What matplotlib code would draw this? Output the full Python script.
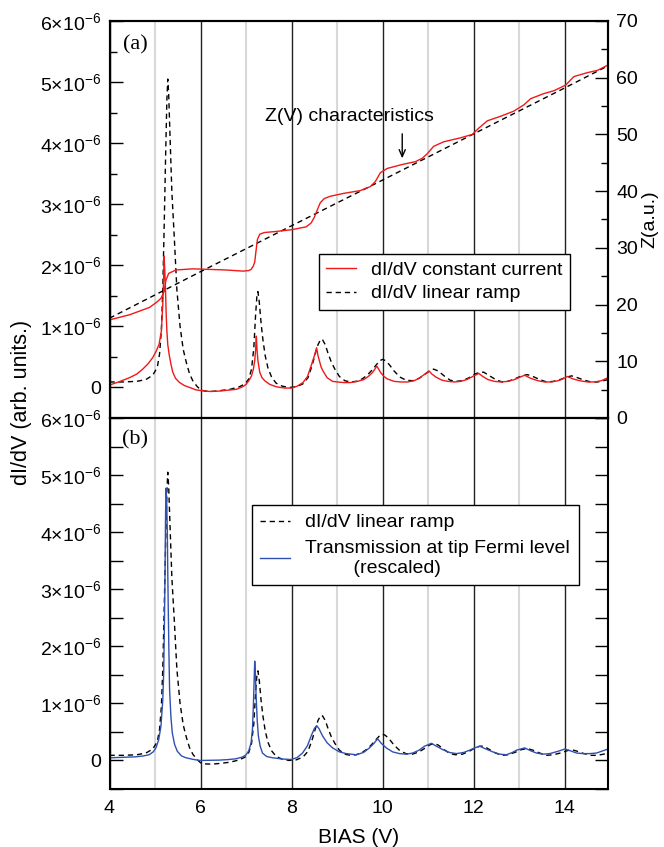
import matplotlib
matplotlib.use('Agg')
import matplotlib.pyplot as plt
from matplotlib.ticker import MultipleLocator, FuncFormatter
from matplotlib.lines import Line2D

plt.rcParams['font.family'] = ['Liberation Sans', 'DejaVu Sans']
plt.rcParams['mathtext.fontset'] = 'custom'
plt.rcParams['mathtext.rm'] = 'Liberation Sans'
plt.rcParams['mathtext.it'] = 'Liberation Sans:italic'
plt.rcParams['mathtext.bf'] = 'Liberation Sans:bold'

# ---------------- data ----------------
# dI/dV linear ramp (black dashed), units of 1e-6
ramp_v = [4.00, 4.30, 4.60, 4.80, 4.95, 5.05, 5.10, 5.14, 5.17, 5.20, 5.23, 5.26, 5.28, 5.30,
          5.33, 5.37, 5.42, 5.48, 5.55, 5.62, 5.69, 5.76, 5.83, 5.92, 6.00, 6.10, 6.25, 6.45,
          6.65, 6.85, 6.98, 7.06, 7.12, 7.17, 7.21, 7.24, 7.26, 7.29, 7.33, 7.37, 7.42, 7.48,
          7.56, 7.66, 7.80, 7.95, 8.10, 8.25, 8.36, 8.45, 8.52, 8.58, 8.64, 8.68, 8.74, 8.80,
          8.87, 8.95, 9.05, 9.17, 9.29, 9.42, 9.55, 9.66, 9.76, 9.86, 9.94, 10.00, 10.06, 10.15,
          10.25, 10.38, 10.51, 10.65, 10.80, 10.92, 11.03, 11.12, 11.22, 11.35, 11.48, 11.60,
          11.75, 11.90, 12.03, 12.14, 12.22, 12.35, 12.48, 12.62, 12.75, 12.90, 13.05, 13.18,
          13.30, 13.45, 13.60, 13.75, 13.90, 14.05, 14.15, 14.28, 14.42, 14.58, 14.72, 14.85, 14.95]
ramp_didv = [0.09, 0.09, 0.10, 0.13, 0.20, 0.33, 0.55, 0.95, 1.6, 2.6, 3.7, 4.7, 5.05, 4.8,
             4.1, 3.2, 2.5, 1.6, 1.0, 0.62, 0.40, 0.22, 0.11, 0.02, -0.04, -0.06, -0.065, -0.05,
             -0.03, 0.01, 0.06, 0.14, 0.30, 0.65, 1.20, 1.52, 1.57, 1.40, 1.05, 0.78, 0.52, 0.32,
             0.17, 0.07, 0.02, 0.00, 0.01, 0.06, 0.16, 0.36, 0.55, 0.70, 0.79, 0.78, 0.70, 0.56,
             0.42, 0.30, 0.18, 0.11, 0.09, 0.10, 0.14, 0.20, 0.28, 0.37, 0.44, 0.46, 0.44, 0.37,
             0.27, 0.17, 0.12, 0.11, 0.15, 0.21, 0.27, 0.30, 0.27, 0.19, 0.12, 0.10,
             0.11, 0.16, 0.22, 0.25, 0.25, 0.19, 0.13, 0.09, 0.10, 0.14, 0.19, 0.21,
             0.18, 0.13, 0.09, 0.10, 0.13, 0.17, 0.19, 0.16, 0.12, 0.09, 0.09, 0.11, 0.13]

# dI/dV constant current (red), units of 1e-6
cc_v = [4.00, 4.20, 4.44, 4.60, 4.73, 4.85, 4.95, 5.03, 5.09, 5.14, 5.17, 5.19, 5.20, 5.215,
        5.23, 5.245, 5.26, 5.28, 5.31, 5.35, 5.39, 5.45, 5.54, 5.65, 5.76, 5.90, 6.00, 6.20,
        6.40, 6.60, 6.79, 6.92, 7.00, 7.07, 7.12, 7.16, 7.19, 7.21, 7.225, 7.24, 7.26, 7.30,
        7.35, 7.41, 7.52, 7.67, 7.85, 8.00, 8.12, 8.25, 8.35, 8.44, 8.50, 8.55, 8.58, 8.61,
        8.65, 8.69, 8.78, 8.90, 9.00, 9.15, 9.29, 9.45, 9.59, 9.70, 9.77, 9.83, 9.87, 9.92,
        9.96, 10.03, 10.10, 10.25, 10.40, 10.55, 10.69, 10.80, 10.91, 11.02, 11.08, 11.17,
        11.30, 11.43, 11.58, 11.72, 11.85, 11.98, 12.11, 12.20, 12.31, 12.45, 12.60, 12.75,
        12.90, 13.02, 13.12, 13.25, 13.41, 13.56, 13.71, 13.85, 13.93, 14.06, 14.18, 14.33,
        14.50, 14.66, 14.80, 14.95]
cc_didv = [0.04, 0.09, 0.16, 0.22, 0.30, 0.39, 0.49, 0.60, 0.71, 0.93, 1.36, 1.80, 2.15, 1.9,
           1.60, 1.20, 0.93, 0.70, 0.54, 0.38, 0.25, 0.15, 0.08, 0.03, 0.00, -0.04, -0.05, -0.065,
           -0.06, -0.045, -0.03, 0.01, 0.05, 0.12, 0.19, 0.30, 0.44, 0.62, 0.84, 0.62, 0.44, 0.25,
           0.16, 0.11, 0.05, 0.01, -0.01, -0.01, 0.02, 0.08, 0.18, 0.38, 0.52, 0.65, 0.52, 0.44,
           0.33, 0.27, 0.16, 0.10, 0.09, 0.08, 0.08, 0.10, 0.13, 0.19, 0.24, 0.30, 0.35, 0.29,
           0.24, 0.18, 0.14, 0.10, 0.09, 0.09, 0.11, 0.15, 0.21, 0.27, 0.22, 0.17,
           0.12, 0.10, 0.09, 0.10, 0.13, 0.18, 0.23, 0.18, 0.13, 0.10, 0.09, 0.10,
           0.13, 0.17, 0.20, 0.15, 0.11, 0.09, 0.09, 0.11, 0.13, 0.18, 0.14, 0.11,
           0.09, 0.09, 0.11, 0.16]

# Z(V) linear ramp (black dashed), right axis
zr_v = [4.0, 6.0, 8.0, 10.0, 12.0, 14.0, 14.95]
zr = [17.6, 25.8, 33.9, 41.96, 50.1, 58.2, 62.1]

# Z(V) constant current (red), right axis
zc_v = [4.00, 4.44, 4.88, 5.05, 5.13, 5.20, 5.24, 5.30, 5.46, 5.83, 6.20, 6.56, 6.93, 7.06,
        7.11, 7.16, 7.19, 7.22, 7.25, 7.30, 7.40, 7.67, 8.00, 8.32, 8.43, 8.50, 8.56, 8.63,
        8.72, 8.85, 9.14, 9.51, 9.73, 9.84, 9.95, 10.10, 10.43, 10.72, 10.87, 10.98, 11.12,
        11.34, 11.71, 11.97, 12.11, 12.30, 12.59, 12.88, 13.10, 13.25, 13.54, 13.76, 14.02,
        14.20, 14.50, 14.72, 14.94]
zc = [17.3, 18.2, 19.5, 20.5, 21.1, 22.3, 24.3, 25.5, 26.1, 26.3, 26.2, 26.1, 25.9, 26.0,
      26.2, 26.8, 27.5, 29.6, 31.5, 32.4, 32.7, 32.9, 33.2, 33.7, 34.4, 35.4, 36.6, 37.96,
      38.7, 39.1, 39.6, 40.1, 40.8, 41.7, 43.25, 44.0, 44.7, 45.2, 45.8, 46.6, 47.9,
      48.7, 49.4, 50.0, 51.1, 52.4, 53.2, 54.1, 55.2, 56.3, 57.2, 57.7, 58.7,
      60.2, 60.9, 61.3, 62.2]

# Transmission at tip Fermi level (rescaled), blue, units of 1e-6
tr_v = [4.00, 4.30, 4.58, 4.75, 4.87, 4.96, 5.02, 5.08, 5.13, 5.17, 5.19, 5.205, 5.22, 5.23,
        5.24, 5.255, 5.27, 5.28, 5.29, 5.305, 5.32, 5.35, 5.38, 5.43, 5.49, 5.58, 5.68, 5.83,
        5.98, 6.20, 6.41, 6.60, 6.78, 6.92, 7.00, 7.06, 7.11, 7.14, 7.16, 7.175, 7.19, 7.205,
        7.22, 7.245, 7.27, 7.31, 7.36, 7.45, 7.58, 7.80, 7.99, 8.12, 8.24, 8.35, 8.43, 8.50,
        8.55, 8.60, 8.68, 8.78, 8.90, 9.05, 9.20, 9.42, 9.58, 9.71, 9.81, 9.89, 9.97, 10.08,
        10.22, 10.37, 10.52, 10.66, 10.80, 10.92, 11.07, 11.18, 11.32, 11.47, 11.62, 11.78,
        11.91, 12.02, 12.13, 12.27, 12.42, 12.57, 12.72, 12.85, 12.94, 13.12, 13.25, 13.38,
        13.52, 13.67, 13.85, 14.00, 14.12, 14.26, 14.40, 14.55, 14.70, 14.84, 14.95]
tr = [0.047, 0.055, 0.064, 0.08, 0.10, 0.15, 0.22, 0.36, 0.60, 1.05, 1.53, 2.3, 3.28, 4.2,
      4.77, 4.6, 4.0, 3.3, 2.70, 1.9, 1.24, 0.75, 0.48, 0.28, 0.16, 0.08, 0.047, 0.02,
      0.00, 0.003, 0.006, 0.015, 0.03, 0.06, 0.10, 0.17, 0.31, 0.55, 0.95, 1.35, 1.74, 1.50,
      1.14, 0.70, 0.43, 0.25, 0.13, 0.07, 0.047, 0.025, 0.017, 0.05, 0.13, 0.26, 0.43, 0.56,
      0.61, 0.56, 0.43, 0.31, 0.22, 0.15, 0.12, 0.10, 0.14, 0.22, 0.30, 0.38, 0.30, 0.22,
      0.15, 0.12, 0.11, 0.13, 0.18, 0.25, 0.30, 0.25, 0.19, 0.14, 0.12, 0.14,
      0.18, 0.22, 0.25, 0.20, 0.15, 0.11, 0.10, 0.14, 0.18, 0.22, 0.17, 0.13,
      0.11, 0.12, 0.16, 0.20, 0.17, 0.13, 0.12, 0.12, 0.13, 0.17, 0.20]

x_ticks = [4, 6, 8, 10, 12, 14]
scale = 1e-6

# ---------------- figure ----------------
W, H = 664, 847
fig = plt.figure(figsize=(W / 100, H / 100), dpi=100)
L, R = 109.5, 608
ax1 = fig.add_axes([L / W, 1 - 418 / H, (R - L) / W, (418 - 21) / H])
ax3 = fig.add_axes([L / W, 1 - 789 / H, (R - L) / W, (789 - 418) / H])

red = '#f01818'
blue = '#3050b0'
dash = (0, (3.8, 2.8))
FS = 14


def yfmt(v, pos):
    n = round(v / scale, 3)
    if abs(n) < 1e-9:
        return '0'
    if abs(n - round(n)) > 1e-6:
        return ''
    return '%d\u00d710$^{-6}$' % int(round(n))


for ax in (ax1, ax3):
    ax.set_xlim(4, 14.95)
    ax.set_ylim(-0.5e-6, 6e-6)
    ax.xaxis.set_major_locator(MultipleLocator(2))
    ax.xaxis.set_minor_locator(MultipleLocator(1))
    ax.grid(True, axis='x', which='major', color='#222222', lw=1.0, zorder=0)
    ax.grid(True, axis='x', which='minor', color='#d8d8d8', lw=1.5, zorder=0)
    ax.set_axisbelow(True)
    for s in ax.spines.values():
        s.set_linewidth(1.5)
    ax.tick_params(axis='both', which='both', direction='in', labelsize=FS, width=1.0)
    ax.tick_params(axis='x', which='both', top=True, length=0)
    ax.tick_params(axis='y', which='major', length=9.5, pad=6)
    ax.tick_params(axis='y', which='minor', length=5)
    ax.yaxis.set_major_formatter(FuncFormatter(yfmt))

# ---- top panel ----
ax1.yaxis.set_major_locator(MultipleLocator(1e-6))
ax1.yaxis.set_minor_locator(MultipleLocator(0.5e-6))
ax1.tick_params(axis='y', which='both', right=False)
ax1.tick_params(axis='x', labelbottom=False)
ax1.plot(ramp_v, [d * scale for d in ramp_didv], color='black', lw=1.0, ls=dash)
ax1.plot(cc_v, [d * scale for d in cc_didv], color=red, lw=1.0)

ax2 = ax1.twinx()
ax2.set_ylim(0, 70)
ax2.yaxis.set_major_locator(MultipleLocator(10))
ax2.yaxis.set_minor_locator(MultipleLocator(5))
ax2.tick_params(axis='y', which='both', direction='in', labelsize=FS, width=1.0)
ax2.tick_params(axis='y', which='major', length=9.5, pad=6)
ax2.tick_params(axis='y', which='minor', length=5)
for s in ax2.spines.values():
    s.set_linewidth(1.5)
ax2.plot(zr_v, zr, color='black', lw=1.0, ls=dash)
ax2.plot(zc_v, zc, color=red, lw=1.0)
ax2.set_ylabel('Z(a.u.)', fontsize=FS, labelpad=2)

ax2.text(9.28, 53.1, 'Z(V) characteristics', fontsize=FS, ha='center', va='center')
ax2.annotate('', xy=(10.43, 45.3), xytext=(10.43, 50.6),
             arrowprops=dict(arrowstyle='->,head_length=0.5,head_width=0.22', color='black', lw=1.0))

h_top = [Line2D([], [], color=red, lw=1.0), Line2D([], [], color='black', lw=1.0, ls=dash)]
leg1 = ax1.legend(h_top, ['dI/dV constant current', 'dI/dV linear ramp'],
                  loc='upper left', bbox_to_anchor=(319 / W, 1 - 254 / H),
                  bbox_transform=fig.transFigure, fontsize=FS, frameon=True, fancybox=False,
                  framealpha=1, edgecolor='black', handlelength=1.5, handletextpad=0.8,
                  borderpad=0.38, labelspacing=0.3, borderaxespad=0)
leg1.get_frame().set_linewidth(1.0)

fig.text(135 / W, 1 - 45 / H, '(a)', family='Liberation Serif', fontsize=16, ha='center', va='center')

# ---- bottom panel ----
ax3.yaxis.set_major_locator(MultipleLocator(0.5e-6))
ax3.tick_params(axis='y', which='both', right=True)
ax3.plot(ramp_v, [d * scale for d in ramp_didv], color='black', lw=1.0, ls=dash)
ax3.plot(tr_v, [d * scale for d in tr], color=blue, lw=1.0)
ax3.set_xticks(x_ticks)
ax3.tick_params(axis='x', labelsize=FS, pad=8)
ax3.set_xlabel('BIAS (V)', fontsize=15, labelpad=8)

h_bot = [Line2D([], [], color='black', lw=1.0, ls=dash), Line2D([], [], color=blue, lw=1.0)]
leg3 = ax3.legend(h_bot, ['dI/dV linear ramp', 'Transmission at tip Fermi level\n         (rescaled)'],
                  loc='upper left', bbox_to_anchor=(251.7 / W, 1 - 505 / H),
                  bbox_transform=fig.transFigure, fontsize=FS, frameon=True, fancybox=False,
                  framealpha=1, edgecolor='black', handlelength=1.5, handletextpad=0.8,
                  borderpad=0.45, labelspacing=0.45, borderaxespad=0)
leg3.get_frame().set_linewidth(1.0)

fig.text(135 / W, 1 - 440 / H, '(b)', family='Liberation Serif', fontsize=16, ha='center', va='center')

fig.text(22 / W, 1 - 402 / H, 'dI/dV (arb. units.)', fontsize=15.5, rotation=90,
         ha='center', va='center')

fig.savefig('out.png', dpi=100)
